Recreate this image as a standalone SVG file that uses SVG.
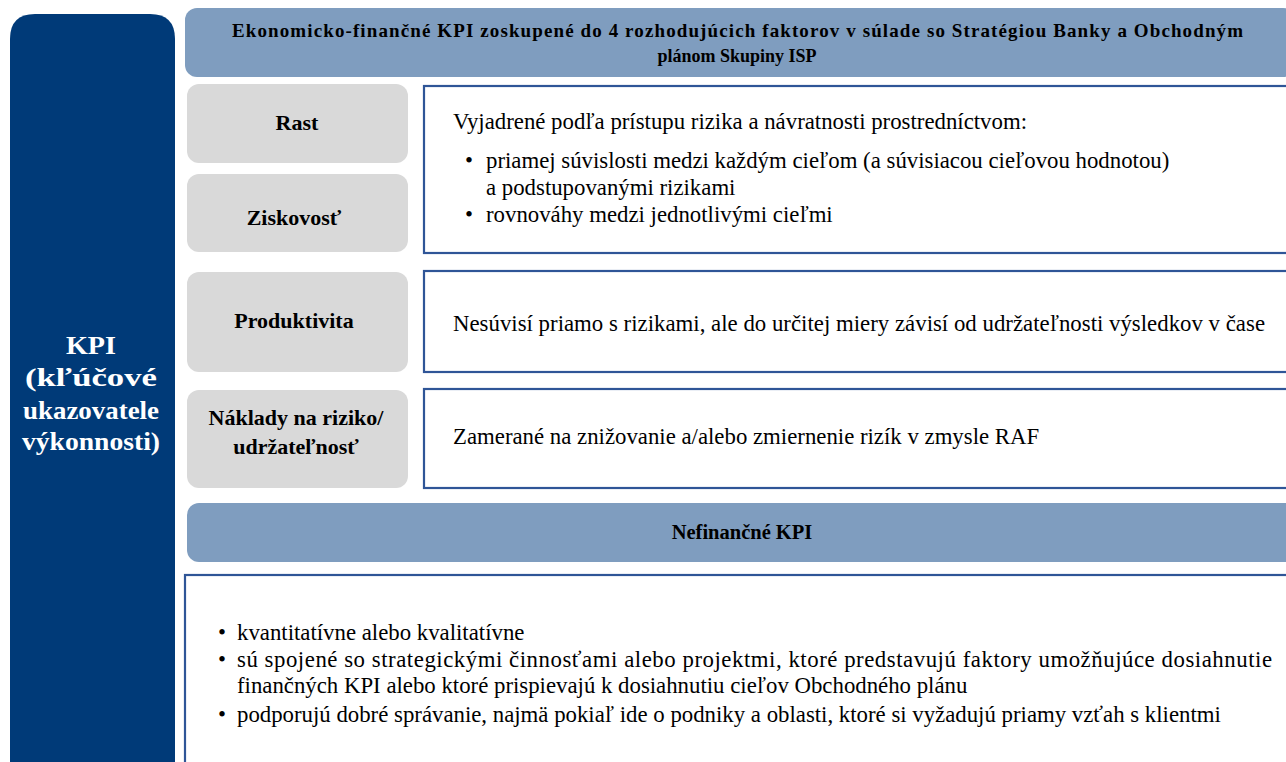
<svg xmlns="http://www.w3.org/2000/svg" width="1286" height="762" viewBox="0 0 1286 762">
<style>
.bg{fill:#ffffff}
.kpi{fill:#003A78}
.hdr{fill:#7F9DBF}
.gray{fill:#D9D9D9}
.box{fill:#ffffff;stroke:#2F5597;stroke-width:2.2}
.t{font-family:"Liberation Serif","Times New Roman",serif;fill:#000}
.w{fill:#ffffff;font-weight:bold;font-size:26px}
.h{font-size:19px;font-weight:bold}
.l{font-size:22px;font-weight:bold}
.p{font-size:22.8px}
</style>
<rect class="bg" x="0" y="0" width="1286" height="762"/>
<g id="kpi-main">
  <path class="kpi" d="M10,790 L10,39 Q10,14 35,14 L150,14 Q175,14 175,39 L175,790 Z"/>
  <text class="t w" x="91" y="354" text-anchor="middle" textLength="50" lengthAdjust="spacingAndGlyphs">KPI</text>
  <text class="t w" x="91" y="386" text-anchor="middle" textLength="132" lengthAdjust="spacingAndGlyphs">(kľúčové</text>
  <text class="t w" x="91" y="419" text-anchor="middle" textLength="136" lengthAdjust="spacingAndGlyphs">ukazovatele</text>
  <text class="t w" x="91" y="450" text-anchor="middle" textLength="138" lengthAdjust="spacingAndGlyphs">výkonnosti)</text>
</g>
<g id="header-financial">
  <rect class="hdr" x="185" y="8" width="1110" height="69" rx="12"/>
  <text class="t h" x="232" y="37" textLength="1011">Ekonomicko-finančné  KPI zoskupené  do 4 rozhodujúcich  faktorov  v súlade so Stratégiou Banky a Obchodným</text>
  <text class="t h" x="737" y="62" text-anchor="middle" style="font-size:18px">plánom Skupiny ISP</text>
</g>
<g id="rast">
  <rect class="gray" x="187" y="84" width="221" height="79" rx="12"/>
  <text class="t l" x="297" y="130" text-anchor="middle">Rast</text>
</g>
<g id="ziskovost">
  <rect class="gray" x="187" y="174" width="221" height="78" rx="12"/>
  <text class="t l" x="294" y="225" text-anchor="middle">Ziskovosť</text>
</g>
<g id="produktivita">
  <rect class="gray" x="187" y="272" width="221" height="100" rx="12"/>
  <text class="t l" x="294" y="328" text-anchor="middle">Produktivita</text>
</g>
<g id="naklady">
  <rect class="gray" x="187" y="390" width="221" height="98" rx="12"/>
  <text class="t l" x="296" y="425" text-anchor="middle">Náklady na riziko/</text>
  <text class="t l" x="296" y="454" text-anchor="middle">udržateľnosť</text>
</g>
<g id="desc-rast-ziskovost">
  <rect class="box" x="424" y="86" width="880" height="167"/>
  <text class="t p" x="453" y="129">Vyjadrené podľa prístupu rizika a návratnosti prostredníctvom:</text>
  <text class="t p" x="465" y="168">•</text>
  <text class="t p" x="486" y="168">priamej súvislosti medzi každým cieľom (a súvisiacou cieľovou hodnotou)</text>
  <text class="t p" x="486" y="195">a podstupovanými rizikami</text>
  <text class="t p" x="465" y="222">•</text>
  <text class="t p" x="486" y="222">rovnováhy medzi jednotlivými cieľmi</text>
</g>
<g id="desc-produktivita">
  <rect class="box" x="424" y="271" width="880" height="101"/>
  <text class="t p" x="453" y="331" textLength="812">Nesúvisí priamo s rizikami, ale do určitej miery závisí od udržateľnosti výsledkov v čase</text>
</g>
<g id="desc-naklady">
  <rect class="box" x="424" y="389" width="880" height="99"/>
  <text class="t p" x="453" y="444">Zamerané na znižovanie a/alebo zmiernenie rizík v zmysle RAF</text>
</g>
<g id="header-nonfinancial">
  <rect class="hdr" x="187" y="503" width="1110" height="59" rx="12"/>
  <text class="t h" x="742" y="539" text-anchor="middle" style="font-size:20.5px">Nefinančné KPI</text>
</g>
<g id="desc-nonfinancial">
  <rect class="box" x="185" y="575" width="1120" height="220"/>
  <text class="t p" x="218" y="640">•</text>
  <text class="t p" x="237" y="640">kvantitatívne alebo kvalitatívne</text>
  <text class="t p" x="218" y="667">•</text>
  <text class="t p" x="237" y="667" textLength="1035">sú spojené so strategickými činnosťami alebo projektmi, ktoré predstavujú faktory umožňujúce dosiahnutie</text>
  <text class="t p" x="237" y="693">finančných KPI alebo ktoré prispievajú k dosiahnutiu cieľov Obchodného plánu</text>
  <text class="t p" x="218" y="722">•</text>
  <text class="t p" x="237" y="722">podporujú dobré správanie, najmä pokiaľ ide o podniky a oblasti, ktoré si vyžadujú priamy vzťah s klientmi</text>
</g>
<g id="connectors"></g>
</svg>
